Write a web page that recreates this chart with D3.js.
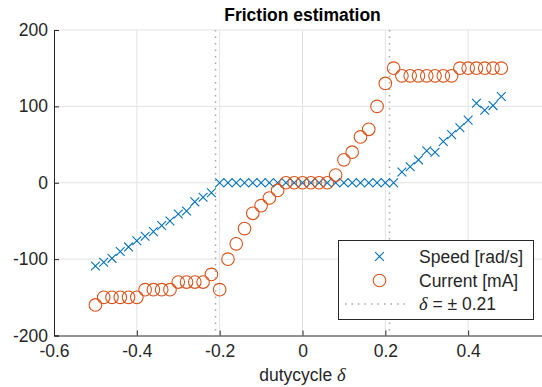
<!DOCTYPE html>
<html>
<head>
<meta charset="utf-8">
<script src="https://cdn.jsdelivr.net/npm/d3@7"></script>
<style>
  body { margin: 0; background: #fff; }
  text { font-family: "Liberation Sans", Arial, Helvetica, sans-serif; fill: #262626; }
</style>
</head>
<body>
<div id="chart"></div>
<script>
// chart data
var dutycycle = [-0.50, -0.48, -0.46, -0.44, -0.42, -0.40, -0.38, -0.36, -0.34, -0.32,
                 -0.30, -0.28, -0.26, -0.24, -0.22, -0.20, -0.18, -0.16, -0.14, -0.12,
                 -0.10, -0.08, -0.06, -0.04, -0.02, 0.00, 0.02, 0.04, 0.06, 0.08,
                 0.10, 0.12, 0.14, 0.16, 0.18, 0.20, 0.22, 0.24, 0.26, 0.28,
                 0.30, 0.32, 0.34, 0.36, 0.38, 0.40, 0.42, 0.44, 0.46, 0.48];

var speed = [-109, -104, -99, -90, -84, -76, -70, -64, -56, -50,
             -41, -37, -25, -19, -13, 0, 0, 0, 0, 0,
             0, 0, 0, 0, 0, 0, 0, 0, 0, 0,
             0, 0, 0, 0, 0, 0, 0, 14, 21, 30,
             42, 40, 54, 63, 72, 82, 104, 95, 101, 113];

var current = [-160, -150, -150, -150, -150, -150, -140, -140, -140, -140,
               -130, -130, -130, -130, -120, -140, -100, -80, -60, -40,
               -30, -20, -10, 0, 0, 0, 0, 0, 0, 10,
               30, 40, 60, 70, 100, 130, 150, 140, 140, 140,
               140, 140, 140, 140, 150, 150, 150, 150, 150, 150];

var threshold = [-0.21, 0.21];
var xTicks = [-0.6, -0.4, -0.2, 0, 0.2, 0.4];
var yTicks = [-200, -100, 0, 100, 200];

var svgWidth = 542;
var svgHeight = 387;

var plot = { left: 54, right: 551, top: 30, bottom: 335.5 };

var blue = "#0072BD";
var orange = "#D95319";
var axisColor = "#262626";
var fontSize = "17.5px";

var svg = d3.select("#chart")
  .append("svg")
  .attr("width", svgWidth)
  .attr("height", svgHeight);

svg.append("defs").append("clipPath")
  .attr("id", "plotClip")
  .append("rect")
  .attr("x", plot.left)
  .attr("y", plot.top - 8)
  .attr("width", plot.right - plot.left)
  .attr("height", plot.bottom - plot.top + 8);

// scales
var xScale = d3.scaleLinear()
  .domain([-0.6, 0.6])
  .range([plot.left, plot.right]);

var yScale = d3.scaleLinear()
  .domain([-200, 200])
  .range([plot.bottom, plot.top]);

// grid
svg.append("g")
  .selectAll("line")
  .data(xTicks.filter(d => d > -0.6))
  .enter()
  .append("line")
  .attr("x1", d => xScale(d))
  .attr("x2", d => xScale(d))
  .attr("y1", plot.top)
  .attr("y2", plot.bottom)
  .style("stroke", "#e3e3e3")
  .style("stroke-width", 1);

svg.append("g")
  .selectAll("line")
  .data(yTicks.filter(d => d > -200))
  .enter()
  .append("line")
  .attr("x1", plot.left)
  .attr("x2", plot.right)
  .attr("y1", d => yScale(d))
  .attr("y2", d => yScale(d))
  .style("stroke", "#e3e3e3")
  .style("stroke-width", 1);

// axes (plain hyphen for negatives, like the original)
var bottomAxis = d3.axisBottom(xScale)
  .tickValues(xTicks)
  .tickSize(-5)
  .tickPadding(9)
  .tickFormat(d => d === 0 ? "0" : d3.format(".1f")(d).replace("−", "-"));

var leftAxis = d3.axisLeft(yScale)
  .tickValues(yTicks)
  .tickSize(-5)
  .tickPadding(6)
  .tickFormat(d => String(d));

var xAxisG = svg.append("g")
  .attr("transform", `translate(0, ${plot.bottom})`)
  .call(bottomAxis);

var yAxisG = svg.append("g")
  .attr("transform", `translate(${plot.left}, 0)`)
  .call(leftAxis);

[xAxisG, yAxisG].forEach(function(g) {
  g.select(".domain").style("stroke", axisColor).style("stroke-width", 1);
  g.selectAll(".tick line").style("stroke", axisColor);
  g.selectAll(".tick text")
    .style("font-size", fontSize)
    .style("font-family", "Liberation Sans, Arial, sans-serif")
    .style("fill", axisColor);
});

// threshold lines
svg.append("g")
  .selectAll("line")
  .data(threshold)
  .enter()
  .append("line")
  .attr("x1", d => xScale(d))
  .attr("x2", d => xScale(d))
  .attr("y1", plot.top)
  .attr("y2", plot.bottom)
  .style("stroke", "#a6a6a6")
  .style("stroke-width", 1.5)
  .style("stroke-dasharray", "1.5,5");

var marks = svg.append("g").attr("clip-path", "url(#plotClip)");

// speed crosses
var cross = 4.4;
marks.append("g")
  .selectAll("path")
  .data(dutycycle)
  .enter()
  .append("path")
  .attr("d", function(d, i) {
    var cx = xScale(d), cy = yScale(speed[i]);
    return `M${cx - cross},${cy - cross}L${cx + cross},${cy + cross}M${cx - cross},${cy + cross}L${cx + cross},${cy - cross}`;
  })
  .style("stroke", blue)
  .style("stroke-width", 1.1)
  .style("fill", "none");

// current circles
marks.append("g")
  .selectAll("circle")
  .data(dutycycle)
  .enter()
  .append("circle")
  .attr("cx", d => xScale(d))
  .attr("cy", (d, i) => yScale(current[i]))
  .attr("r", 6.3)
  .style("fill", "none")
  .style("stroke", orange)
  .style("stroke-width", 1.1);

// title and label
svg.append("text")
  .attr("x", (plot.left + plot.right) / 2)
  .attr("y", 21)
  .attr("text-anchor", "middle")
  .style("font-size", "17.5px")
  .style("font-weight", "bold")
  .style("fill", "#000")
  .text("Friction estimation");

var xLabel = svg.append("text")
  .attr("x", (plot.left + plot.right) / 2)
  .attr("y", 381)
  .attr("text-anchor", "middle")
  .style("font-size", fontSize);
xLabel.append("tspan").text("dutycycle ");
xLabel.append("tspan")
  .style("font-family", "Liberation Serif, Times New Roman, serif")
  .style("font-style", "italic")
  .style("font-size", "18.5px")
  .text("δ");

// legend
var legend = svg.append("g");
legend.append("rect")
  .attr("x", 338.5)
  .attr("y", 240.5)
  .attr("width", 195)
  .attr("height", 79)
  .style("fill", "#fff")
  .style("stroke", axisColor)
  .style("stroke-width", 1);

var lx = 379.5;
var ly = [256.5, 280.5, 304];

legend.append("path")
  .attr("d", `M${lx - cross},${ly[0] - cross}L${lx + cross},${ly[0] + cross}M${lx - cross},${ly[0] + cross}L${lx + cross},${ly[0] - cross}`)
  .style("stroke", blue)
  .style("stroke-width", 1.1);

legend.append("circle")
  .attr("cx", lx)
  .attr("cy", ly[1])
  .attr("r", 6.3)
  .style("fill", "none")
  .style("stroke", orange)
  .style("stroke-width", 1.1);

legend.append("line")
  .attr("x1", 345)
  .attr("x2", 407)
  .attr("y1", ly[2])
  .attr("y2", ly[2])
  .style("stroke", "#a6a6a6")
  .style("stroke-width", 1.5)
  .style("stroke-dasharray", "1.5,5");

legend.append("text")
  .attr("x", 419)
  .attr("y", ly[0] + 6)
  .style("font-size", fontSize)
  .text("Speed [rad/s]");

legend.append("text")
  .attr("x", 419)
  .attr("y", ly[1] + 6)
  .style("font-size", fontSize)
  .text("Current [mA]");

var dText = legend.append("text")
  .attr("x", 419)
  .attr("y", ly[2] + 6)
  .style("font-size", fontSize);
dText.append("tspan")
  .style("font-family", "Liberation Serif, Times New Roman, serif")
  .style("font-style", "italic")
  .style("font-size", "18.5px")
  .text("δ");
dText.append("tspan").text(" = ± 0.21");
</script>
</body>
</html>
